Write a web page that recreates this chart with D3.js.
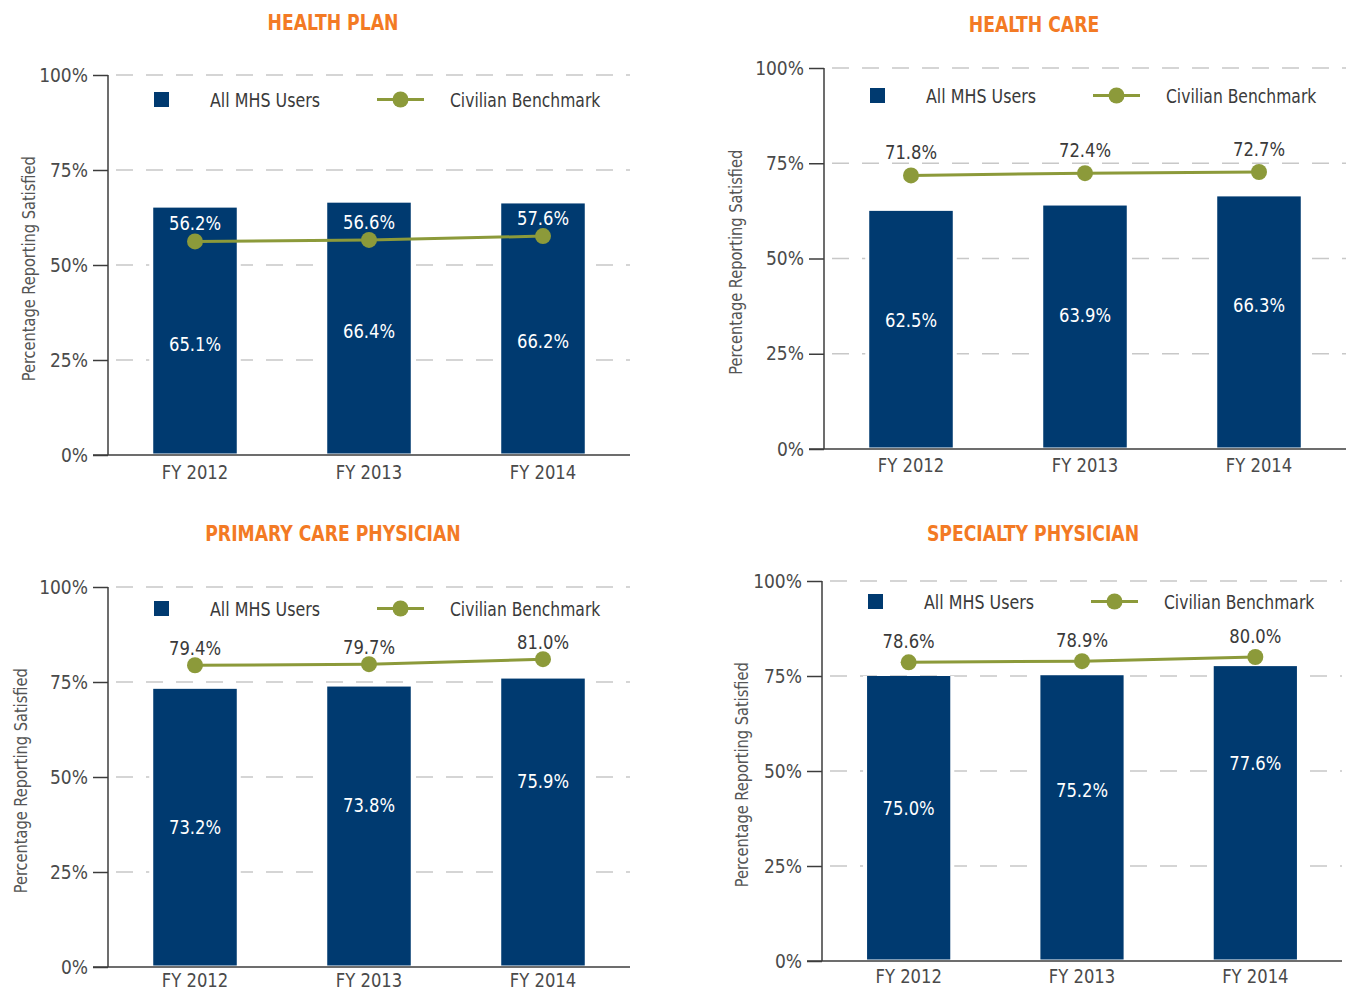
<!DOCTYPE html>
<html><head><meta charset="utf-8">
<script src="https://cdn.jsdelivr.net/npm/d3@7"></script>
<style>
html,body{margin:0;padding:0;background:#fff;}
svg{display:block;}
</style></head>
<body>
<svg id="chart" width="1346" height="992"></svg>
<script>
// ---------- data ----------
const years = ["FY 2012", "FY 2013", "FY 2014"];
const panelTitles = ["HEALTH PLAN", "HEALTH CARE", "PRIMARY CARE PHYSICIAN", "SPECIALTY PHYSICIAN"];
const mhsHealthPlan = [65.1, 66.4, 66.2];
const benchHealthPlan = [56.2, 56.6, 57.6];
const mhsHealthCare = [62.5, 63.9, 66.3];
const benchHealthCare = [71.8, 72.4, 72.7];
const mhsPrimary = [73.2, 73.8, 75.9];
const benchPrimary = [79.4, 79.7, 81.0];
const mhsSpecialty = [75.0, 75.2, 77.6];
const benchSpecialty = [78.6, 78.9, 80.0];
const yTicks = [0, 25, 50, 75, 100];
const yTitle = "Percentage Reporting Satisfied";
const legendLabels = ["All MHS Users", "Civilian Benchmark"];

// ---------- layout ----------
const layout = [
  {left:108, right:630, top:75, bottom:455, titleX:333, titleY:22, yTitleX:28, legendDy:24.5, xPad:11, barLabelDy:[136,128,138], lineLabelDy:-18, lineLabelColor:"#ffffff"},
  {left:824, right:1346, top:68, bottom:449, titleX:1034, titleY:24, yTitleX:735, legendDy:27.5, xPad:10, barLabelDy:[109,109,109], lineLabelDy:-23, lineLabelColor:"#3a3a3a"},
  {left:108, right:630, top:587, bottom:967, titleX:333, titleY:533, yTitleX:20, legendDy:21.5, xPad:7, barLabelDy:[138,118,102], lineLabelDy:-17.5, lineLabelColor:"#3a3a3a"},
  {left:822, right:1342, top:581, bottom:961, titleX:1033, titleY:533, yTitleX:741, legendDy:20.5, xPad:9, barLabelDy:[132,115,97], lineLabelDy:-21.5, lineLabelColor:"#3a3a3a"}
];
const panelData = [
  {mhs:mhsHealthPlan, bench:benchHealthPlan},
  {mhs:mhsHealthCare, bench:benchHealthCare},
  {mhs:mhsPrimary, bench:benchPrimary},
  {mhs:mhsSpecialty, bench:benchSpecialty}
];

const FONT = "'DejaVu Sans Condensed','DejaVu Sans',sans-serif";
const BAR = "#003a70", LINE = "#8c9a3a", ORANGE = "#f37a24", GRID = "#c8c8c8", AXIS = "#3c3c3c";

// horizontally compress a text selection to mimic the condensed face
function squeeze(sel, f) {
  sel.each(function() {
    const w = this.getComputedTextLength();
    d3.select(this).attr("textLength", w * f).attr("lengthAdjust", "spacingAndGlyphs");
  });
}

const svg = d3.select("#chart");

panelData.forEach((pd, i) => {
  const L = layout[i];
  const g = svg.append("g");
  const x = d3.scaleBand().domain(years).range([L.left, L.right]).paddingInner(0.52).paddingOuter(0.26);
  const y = d3.scaleLinear().domain([0, 100]).range([L.bottom, L.top]);

  // title
  const t = g.append("text").attr("x", L.titleX).attr("y", L.titleY).attr("text-anchor", "middle")
    .attr("dominant-baseline", "central")
    .style("font-family", FONT).style("font-weight", "bold").style("font-size", "22px")
    .style("fill", ORANGE).text(panelTitles[i]);
  squeeze(t, 0.87);

  // gridlines
  g.selectAll(".grid").data(yTicks.filter(v => v > 0)).enter().append("line")
    .attr("x1", L.left).attr("x2", L.right).attr("y1", d => y(d)).attr("y2", d => y(d))
    .attr("stroke", GRID).attr("stroke-width", 1.6).attr("stroke-dasharray", "17,13")
    .attr("stroke-dashoffset", -8);

  // bars (white halo + bar)
  g.selectAll(".halo").data(pd.mhs).enter().append("rect")
    .attr("x", (d, k) => x(years[k]) - 4).attr("width", x.bandwidth() + 8)
    .attr("y", d => y(d)).attr("height", d => L.bottom - y(d)).attr("fill", "#fff");
  g.selectAll(".bar").data(pd.mhs).enter().append("rect")
    .attr("x", (d, k) => x(years[k])).attr("width", x.bandwidth())
    .attr("y", d => y(d)).attr("height", d => L.bottom - y(d) - 1.5).attr("fill", BAR);

  // y axis
  const yAxis = d3.axisLeft(y).tickValues(yTicks).tickFormat(d => d + "%").tickSize(15).tickPadding(5);
  const ya = g.append("g").attr("transform", `translate(${L.left},0)`).call(yAxis);
  ya.select(".domain").remove();
  ya.selectAll(".tick line").attr("stroke", AXIS).attr("stroke-width", 1.5);
  ya.selectAll(".tick text").style("font-family", FONT).style("font-size", "19px").style("fill", "#4a4a4a");
  g.append("line").attr("x1", L.left).attr("x2", L.left).attr("y1", y(100)).attr("y2", y(0))
    .attr("stroke", AXIS).attr("stroke-width", 1.5);
  // x axis
  const xAxis = d3.axisBottom(x).tickSize(0).tickPadding(L.xPad);
  const xa = g.append("g").attr("transform", `translate(0,${L.bottom})`).call(xAxis);
  xa.select(".domain").remove();
  xa.selectAll(".tick text").style("font-family", FONT).style("font-size", "19px").style("fill", "#4a4a4a");
  squeeze(xa.selectAll(".tick text"), 0.96);
  g.append("line").attr("x1", L.left - 15).attr("x2", L.right).attr("y1", L.bottom).attr("y2", L.bottom)
    .attr("stroke", AXIS).attr("stroke-width", 1.5);

  // y title
  const yt = g.append("text").attr("transform", `translate(${L.yTitleX},${y(49)}) rotate(-90)`)
    .attr("text-anchor", "middle").attr("dominant-baseline", "central")
    .style("font-family", FONT).style("font-size", "18px").style("fill", "#555")
    .text(yTitle);
  squeeze(yt, 0.9);

  // line
  const cx = k => x(years[k]) + x.bandwidth() / 2;
  const line = d3.line().x((d, k) => cx(k)).y(d => y(d));
  g.append("path").datum(pd.bench).attr("d", line).attr("fill", "none")
    .attr("stroke", LINE).attr("stroke-width", 3);
  g.selectAll(".pt").data(pd.bench).enter().append("circle")
    .attr("cx", (d, k) => cx(k)).attr("cy", d => y(d)).attr("r", 8).attr("fill", LINE);

  // line labels
  const ll = g.selectAll(".ll").data(pd.bench).enter().append("text")
    .attr("x", (d, k) => cx(k)).attr("y", d => y(d) + L.lineLabelDy)
    .attr("text-anchor", "middle").attr("dominant-baseline", "central")
    .style("font-family", FONT).style("font-size", "19px").style("fill", L.lineLabelColor)
    .text(d => d.toFixed(1) + "%");
  squeeze(ll, 0.96);
  // bar labels
  const bl = g.selectAll(".bl").data(pd.mhs).enter().append("text")
    .attr("x", (d, k) => cx(k)).attr("y", (d, k) => y(d) + L.barLabelDy[k])
    .attr("text-anchor", "middle").attr("dominant-baseline", "central")
    .style("font-family", FONT).style("font-size", "19px").style("fill", "#ffffff")
    .text(d => d.toFixed(1) + "%");
  squeeze(bl, 0.96);

  // legend
  const ly = L.top + L.legendDy;
  g.append("rect").attr("x", L.left + 46).attr("y", ly - 7.5).attr("width", 15).attr("height", 15).attr("fill", BAR);
  const l1 = g.append("text").attr("x", L.left + 102).attr("y", ly).attr("dominant-baseline", "central")
    .style("font-family", FONT).style("font-size", "19px").style("fill", "#3a3a3a").text(legendLabels[0]);
  squeeze(l1, 0.93);
  g.append("line").attr("x1", L.left + 269).attr("x2", L.left + 316).attr("y1", ly).attr("y2", ly)
    .attr("stroke", LINE).attr("stroke-width", 3);
  g.append("circle").attr("cx", L.left + 292.5).attr("cy", ly).attr("r", 8).attr("fill", LINE);
  const l2 = g.append("text").attr("x", L.left + 342).attr("y", ly).attr("dominant-baseline", "central")
    .style("font-family", FONT).style("font-size", "19px").style("fill", "#3a3a3a").text(legendLabels[1]);
  squeeze(l2, 0.91);
});
</script>
</body></html>
